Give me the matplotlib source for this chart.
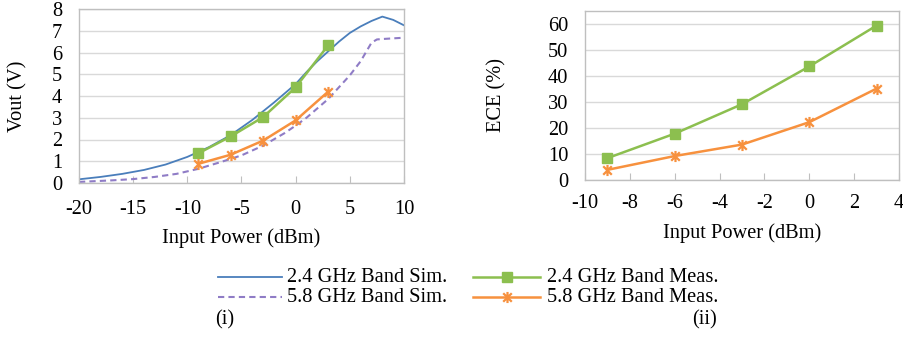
import matplotlib
matplotlib.use("Agg")
import matplotlib.pyplot as plt
from matplotlib.lines import Line2D
from matplotlib.path import Path

plt.rcParams['font.family'] = ['Liberation Serif', 'DejaVu Serif']

# ---------------- data ----------------
sim24_x = [-20, -18, -16, -14, -12, -10, -8, -6, -4, -2, 0, 1, 2, 3, 4, 5, 6, 7, 8, 9, 10]
sim24_v = [0.17, 0.28, 0.42, 0.60, 0.85, 1.20, 1.65, 2.20, 2.90, 3.70, 4.55, 5.10, 5.60, 6.05, 6.50, 6.90, 7.20, 7.45, 7.65, 7.50, 7.25]

sim58_x = [-20, -17, -15, -13, -11, -9, -7, -5, -3, -1, 0, 1, 3, 5, 6, 7, 7.5, 8, 9, 10]
sim58_v = [0.05, 0.12, 0.18, 0.28, 0.42, 0.65, 0.95, 1.27, 1.72, 2.30, 2.64, 3.00, 3.86, 4.95, 5.60, 6.45, 6.60, 6.62, 6.65, 6.68]

meas_x = [-9, -6, -3, 0, 3]
meas24_vout = [1.36, 2.14, 3.03, 4.40, 6.33]
meas58_vout = [0.88, 1.30, 1.95, 2.88, 4.20]
meas24_ece = [8.4, 17.8, 29.1, 43.6, 59.3]
meas58_ece = [3.9, 9.2, 13.6, 22.2, 35.1]

labels = ["2.4 GHz Band Sim.", "5.8 GHz Band Sim.", "2.4 GHz Band Meas.", "5.8 GHz Band Meas."]

# ---------------- style ----------------
C_BLUE = "#4a7ebb"
C_PURP = "#8f7cc6"
C_GREEN = "#8cbf4f"
C_ORANGE = "#f7913e"
C_GRID = "#d9d9d9"
C_FRAME = "#bfbfbf"
FS = 14.7

star = Path([(-1, -1), (1, 1), (-1, 1), (1, -1), (0, -1.3), (0, 1.3)],
            [Path.MOVETO, Path.LINETO, Path.MOVETO, Path.LINETO, Path.MOVETO, Path.LINETO])

W, H = 904, 338
fig = plt.figure(figsize=(W / 100, H / 100), dpi=100)


def px_axes(x0, y0, x1, y1):
    return fig.add_axes([x0 / W, 1 - y1 / H, (x1 - x0) / W, (y1 - y0) / H])


def style(ax):
    for s in ax.spines.values():
        s.set_color(C_FRAME)
        s.set_linewidth(1.0)
    ax.grid(axis='y', color=C_GRID, linewidth=1.0)
    ax.set_axisbelow(True)
    ax.tick_params(axis='x', direction='in', length=5, color=C_FRAME, labelsize=FS)
    ax.tick_params(axis='y', length=0, labelsize=FS, pad=12)


# ---------------- left panel ----------------
ax1 = px_axes(79, 9, 404, 183)
style(ax1)
ax1.plot(sim24_x, sim24_v, color=C_BLUE, lw=1.3)
ax1.plot(sim58_x, sim58_v, color=C_PURP, lw=1.5, ls=(0, (3, 2)))
ax1.plot(meas_x, meas24_vout, color=C_GREEN, lw=1.8, marker='s', ms=7.5)
ax1.plot(meas_x, meas58_vout, color=C_ORANGE, lw=1.8, marker=star, ms=8, mew=1.6)
ax1.set_xlim(-20, 10)
ax1.set_ylim(0, 8)
ax1.set_xticks(range(-20, 11, 5))
ax1.set_xticklabels([str(v) for v in range(-20, 11, 5)])
ax1.set_yticks(range(0, 9))
ax1.tick_params(axis='x', pad=12)
ax1.set_xlabel("Input Power (dBm)", fontsize=FS)
ax1.xaxis.set_label_coords(0.5, (183 - 238) / 174)
ax1.xaxis.label.set_va('center')
ax1.set_ylabel("Vout (V)", fontsize=FS)
ax1.yaxis.set_label_coords((18 - 79) / 325, 0.5)
ax1.yaxis.label.set_va('center')

# ---------------- right panel ----------------
ax2 = px_axes(585, 10.7, 899, 180)
style(ax2)
ax2.plot(meas_x, meas24_ece, color=C_GREEN, lw=1.8, marker='s', ms=7.5)
ax2.plot(meas_x, meas58_ece, color=C_ORANGE, lw=1.8, marker=star, ms=8, mew=1.6)
ax2.set_xlim(-10, 4)
ax2.set_ylim(0, 65)
ax2.set_xticks(range(-10, 5, 2))
ax2.set_xticklabels([str(v) for v in range(-10, 5, 2)])
ax2.set_yticks(range(0, 61, 10))
ax2.tick_params(axis='x', pad=10)
ax2.set_xlabel("Input Power (dBm)", fontsize=FS)
ax2.xaxis.set_label_coords(0.5, (180 - 233) / 169.3)
ax2.xaxis.label.set_va('center')
ax2.set_ylabel("ECE (%)", fontsize=FS)
ax2.yaxis.set_label_coords((497 - 585) / 314, 0.5)
ax2.yaxis.label.set_va('center')

# ---------------- legend (figure level) ----------------
def fx(x):
    return x / W


def fy(y):
    return 1 - y / H


rows = [277, 297]
fig.add_artist(Line2D([fx(218), fx(282)], [fy(rows[0])] * 2, color=C_BLUE, lw=1.3))
fig.add_artist(Line2D([fx(218), fx(282)], [fy(rows[1])] * 2, color=C_PURP, lw=1.5, ls=(0, (3, 2))))
fig.add_artist(Line2D([fx(473), fx(540)], [fy(rows[0])] * 2, color=C_GREEN, lw=1.8))
fig.add_artist(Line2D([fx(507)], [fy(rows[0])], color=C_GREEN, marker='s', ms=7.5, ls='none'))
fig.add_artist(Line2D([fx(473), fx(540)], [fy(rows[1])] * 2, color=C_ORANGE, lw=1.8))
fig.add_artist(Line2D([fx(507)], [fy(rows[1])], color=C_ORANGE, marker=star, ms=8, mew=1.6, ls='none'))
fig.text(fx(287), fy(rows[0]), labels[0], fontsize=FS, va='center', ha='left')
fig.text(fx(287), fy(rows[1]), labels[1], fontsize=FS, va='center', ha='left')
fig.text(fx(547), fy(rows[0]), labels[2], fontsize=FS, va='center', ha='left')
fig.text(fx(547), fy(rows[1]), labels[3], fontsize=FS, va='center', ha='left')
fig.text(fx(215), fy(320), "(i)", fontsize=FS, va='center', ha='left')
fig.text(fx(717), fy(320), "(ii)", fontsize=FS, va='center', ha='right')

fig.savefig("out.png", dpi=100)
